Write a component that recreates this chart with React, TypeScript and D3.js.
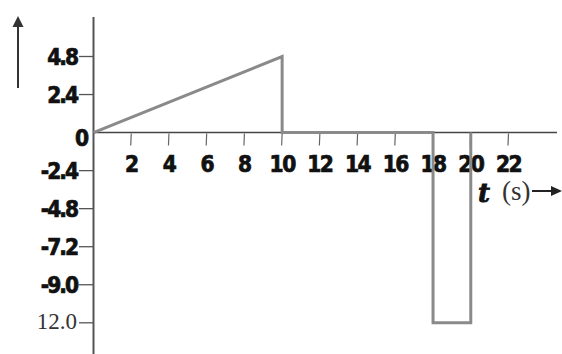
import React from "react";
import * as d3 from "d3";

const tValues = [0, 10, 10, 18, 18, 20, 20];
const vValues = [0, 4.8, 0, 0, -12, -12, 0];
const xTicks = [2, 4, 6, 8, 10, 12, 14, 16, 18, 20, 22];
const yTicks = [4.8, 2.4, -2.4, -4.8, -7.2, -9.6, -12];
const yTickLabels = ["4.8", "2.4", "-2.4", "-4.8", "-7.2", "-9.0", "12.0"];

const W = 562;
const H = 354;

export default function App() {
  const x = d3.scaleLinear().domain([0, 22]).range([93.5, 508.5]);
  const y = d3.scaleLinear().domain([4.8, -12]).range([56.5, 322.8]);
  const pts: [number, number][] = tValues.map((t, i) => [t, vValues[i]]);
  const line = d3
    .line<[number, number]>()
    .x((d) => x(d[0]))
    .y((d) => y(d[1]));
  const x0 = x(0);
  const y0 = y(0);
  const boldFont = {
    fontFamily: "'DejaVu Sans', sans-serif",
    fontWeight: 700,
    fontStretch: "condensed" as const,
    fontSize: 22.5,
    fill: "#111",
    stroke: "#111",
    strokeWidth: 0.7,
  };
  return (
    <svg
      width={W}
      height={H}
      style={{ position: "absolute", left: 0, top: 0, background: "#fff" }}
    >
      {/* up arrow */}
      <line x1={18} y1={88} x2={18} y2={24} stroke="#333" strokeWidth={2} />
      <path d="M12.5,27 L18,16 L23.5,27 Z" fill="#333" />
      {/* y axis */}
      <line x1={x0} y1={17} x2={x0} y2={H} stroke="#555" strokeWidth={2} />
      {/* x axis */}
      <line x1={x0} y1={y0} x2={557} y2={y0} stroke="#444" strokeWidth={1.5} />
      {/* x ticks */}
      {xTicks.map((t) => (
        <g key={"xt" + t}>
          <line x1={x(t)} y1={y0 + 1} x2={x(t) - 0.5} y2={y0 + 13} stroke="#666" strokeWidth={1.2} />
          <text x={x(t)} y={171.5} textAnchor="middle" style={{ ...boldFont, letterSpacing: -1.5 }}>
            {t}
          </text>
        </g>
      ))}
      {/* y ticks */}
      {yTicks.map((v, i) => (
        <g key={"yt" + i}>
          <line x1={79} y1={y(v)} x2={x0} y2={y(v)} stroke="#555" strokeWidth={1.3} />
          {yTickLabels[i] === "12.0" ? (
            <text
              x={77}
              y={y(v) + 6.5}
              textAnchor="end"
              style={{ fontFamily: "'Liberation Serif', serif", fontSize: 23, fill: "#333" }}
            >
              {yTickLabels[i]}
            </text>
          ) : (
            <text x={77} y={y(v) + 8.7} textAnchor="end" style={{ ...boldFont, letterSpacing: -2 }}>
              {yTickLabels[i]}
            </text>
          )}
        </g>
      ))}
      <text x={89} y={145.5} textAnchor="end" style={boldFont}>
        0
      </text>
      {/* data line */}
      <path d={line(pts) || ""} fill="none" stroke="#8a8a8a" strokeWidth={3} strokeLinejoin="miter" />
      {/* t (s) label */}
      <text
        x={478}
        y={202}
        style={{ fontFamily: "'DejaVu Serif', serif", fontWeight: 700, fontStyle: "italic", fontSize: 26, fill: "#111", stroke: "#111", strokeWidth: 0.8 }}
      >
        t
      </text>
      <text x={502} y={200} style={{ fontFamily: "'Liberation Serif', serif", fontSize: 27, fill: "#333" }}>
        (s)
      </text>
      <line x1={532} y1={191} x2={553} y2={191} stroke="#222" strokeWidth={2} />
      <path d="M551,186 L562,191 L551,196 Z" fill="#222" />
    </svg>
  );
}
